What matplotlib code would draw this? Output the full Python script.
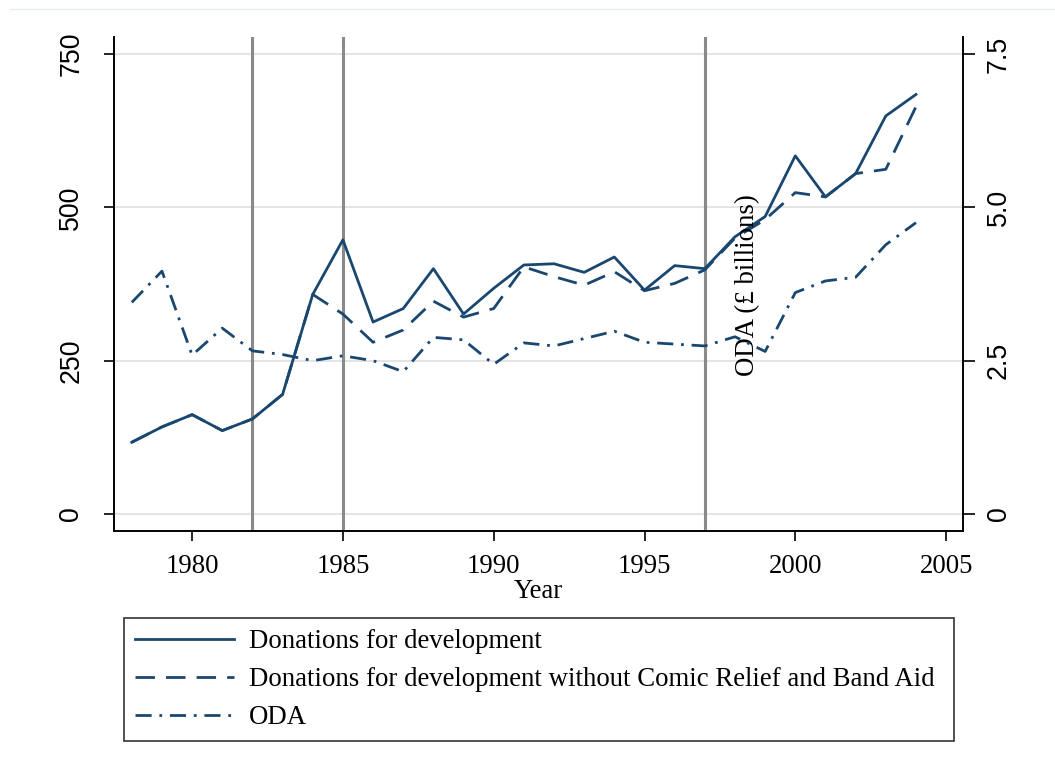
import matplotlib
matplotlib.use('Agg')
import matplotlib.pyplot as plt
from matplotlib.lines import Line2D
import numpy as np


years = list(range(1978, 2005))

# donations, £ millions
donations = [117, 142, 162, 136, 155, 195, 358, 447, 313, 335, 400, 326, 368, 406,
             408, 394, 419, 365, 405, 400, 452, 485, 584, 517, 555, 649, 684]
donations_excl = [117, 142, 162, 136, 155, 195, 358, 326, 280, 300, 347, 321, 335, 403,
                  387, 373, 395, 364, 376, 398, 450, 480, 524, 517, 555, 562, 664]
# official development assistance, £ billions
oda = [3.45, 3.96, 2.59, 3.03, 2.66, 2.60, 2.50, 2.58, 2.50, 2.32, 2.88, 2.84, 2.44, 2.79,
       2.74, 2.86, 2.98, 2.80, 2.77, 2.74, 2.89, 2.65, 3.61, 3.80, 3.86, 4.39, 4.75]

event_years = [1982, 1985, 1997]

left_ticks = [0, 250, 500, 750]
right_ticks = [0, 2.5, 5.0, 7.5]
right_ticklabels = ['0', '2.5', '5.0', '7.5']
x_ticks = [1980, 1985, 1990, 1995, 2000, 2005]

labels = ['Donations for development',
          'Donations for development without Comic Relief and Band Aid',
          'ODA']

navy = '#1a476f'
serif = 'Liberation Serif'
sans = 'Liberation Sans'
fs = 19.3

plt.rcParams['font.family'] = serif

fig = plt.figure(figsize=(10.55, 7.69), dpi=100)
ax = fig.add_axes([114/1055, 1-531/769, (963-114)/1055, (531-37)/769])
ax2 = ax.twinx()

ylo, yhi = -27.7, 777.7
ax.set_xlim(1977.41, 2005.56)
ax.set_ylim(ylo, yhi)
ax2.set_ylim(ylo/100, yhi/100)

for v in left_ticks:
    ax.axhline(v, color='#dcdcdc', lw=1.1, zorder=0)
for yr in event_years:
    ax.axvline(yr, color='#8a8a8a', lw=2.2, zorder=1)

lw = 2.0
l1, = ax.plot(years, donations, color=navy, lw=lw, zorder=3)
l2, = ax.plot(years, donations_excl, color=navy, lw=lw, linestyle=(0, (7, 4)), zorder=3)
l3, = ax2.plot(years, oda, color=navy, lw=lw, linestyle=(0, (5.8, 2.8, 1, 2.8)), zorder=3)

ax.set_yticks(left_ticks)
ax.set_yticklabels([str(v) for v in left_ticks], rotation=90, va='center', family=sans, fontsize=fs)
ax2.set_yticks(right_ticks)
ax2.set_yticklabels(right_ticklabels, rotation=90, va='center', family=sans, fontsize=fs)
ax.set_xticks(x_ticks)
ax.set_xticklabels([str(v) for v in x_ticks], fontsize=fs)

ax.tick_params(axis='y', direction='out', length=7.5, width=1.2, pad=14)
ax2.tick_params(axis='y', direction='out', length=8.5, width=1.2, pad=8)
ax.tick_params(axis='x', direction='out', length=7.5, width=1.2, pad=9)

for a in (ax, ax2):
    a.spines['top'].set_visible(False)
    for s in ('left', 'right', 'bottom'):
        a.spines[s].set_linewidth(1.2)
ax.set_xlabel('Year', fontsize=fs, labelpad=0)

ax.text(1998.43, 373, 'ODA (£ billions)', rotation=90, ha='center', va='center',
        fontsize=fs, zorder=4)

leg = fig.legend([l1, l2, l3], labels, loc='lower left',
                 bbox_to_anchor=(124/1055, 1-741/769, 830/1055, 124/769), mode='expand',
                 fontsize=fs, frameon=True, fancybox=False, handlelength=3.7,
                 handletextpad=0.55, labelspacing=0.49, borderpad=0.4, borderaxespad=0)
leg.get_frame().set_edgecolor('black')
leg.get_frame().set_linewidth(1.2)

# faint outer border line at the top
fig.add_artist(Line2D([10/1055, 1], [1-9/769, 1-9/769], color='#e6ecee', lw=1))

fig.savefig('out.png', dpi=100, facecolor='white')
